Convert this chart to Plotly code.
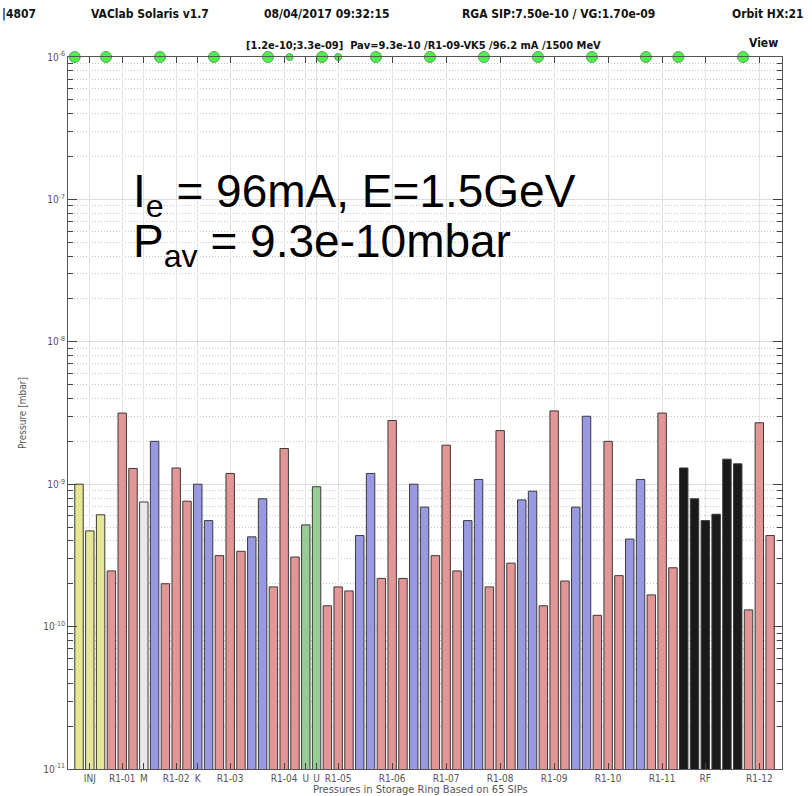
import plotly.graph_objects as go

# ---------------- data ----------------
pressures = [
    1.0e-9, 4.7e-10, 6.1e-10, 2.46e-10, 3.16e-9, 1.29e-9, 7.5e-10, 2.0e-9, 2.0e-10, 1.3e-9,
    7.6e-10, 1.0e-9, 5.55e-10, 3.15e-10, 1.19e-9, 3.38e-10, 4.27e-10, 7.9e-10, 1.9e-10, 1.78e-9,
    3.08e-10, 5.18e-10, 9.6e-10, 1.4e-10, 1.9e-10, 1.78e-10, 4.36e-10, 1.19e-9, 2.18e-10, 2.8e-9,
    2.18e-10, 1.0e-9, 6.9e-10, 3.15e-10, 1.88e-9, 2.46e-10, 5.55e-10, 1.08e-9, 1.9e-10, 2.38e-9,
    2.79e-10, 7.76e-10, 8.93e-10, 1.4e-10, 3.27e-9, 2.09e-10, 6.9e-10, 3.0e-9, 1.2e-10, 2.0e-9,
    2.28e-10, 4.12e-10, 1.08e-9, 1.67e-10, 3.16e-9, 2.59e-10, 1.3e-9, 7.9e-10, 5.55e-10, 6.15e-10,
    1.5e-9, 1.39e-9, 1.31e-10, 2.7e-9, 4.36e-10,
]
pump_types = list(
    "YYYRRRMBRRRBBRRRBBRRRUURRRBBRRRBBRRRBBRRRBBRRRBBRRRBBRRRKKKKKKRRR"
)
type_colors = {
    "Y": "#e6e696",
    "R": "#e39696",
    "M": "#e8e8e8",
    "B": "#9999e3",
    "U": "#96cc96",
    "K": "#1a1a1a",
}
section_pos = [1, 4, 6, 9, 11, 14, 19, 21, 22, 24, 29, 34, 39, 44, 49, 54, 58, 63]
section_labels = ["INJ", "R1-01", "M", "R1-02", "K", "R1-03", "R1-04", "U", "U", "R1-05",
                  "R1-06", "R1-07", "R1-08", "R1-09", "R1-10", "R1-11", "RF", "R1-12"]
status_pos = [-0.4, 2.5, 7.5, 12.5, 17.5, 19.5, 22.5, 24.0, 27.5, 32.5, 37.5, 42.5, 47.5,
              52.5, 55.5, 61.5]
status_size = [11, 11, 11, 11, 11, 7, 11, 7, 11, 11, 11, 11, 11, 11, 11, 11]
status_level = [1e-6] * len(status_pos)

y_major = [1e-11, 1e-10, 1e-9, 1e-8, 1e-7, 1e-6]
y_major_text = ["10<sup>-11</sup>", "10<sup>-10</sup>", "10<sup>-9</sup>",
                "10<sup>-8</sup>", "10<sup>-7</sup>", "10<sup>-6</sup>"]
y_minor = [m * d for d in y_major[:-1] for m in range(2, 10)]

# ---------------- geometry helpers ----------------
W, H = 812, 796
L, R, T, B = 68, 30, 57, 27
PW, PH = W - L - R, H - T - B


def px_x(px):
    return (px - L) / PW


def px_y(py):
    return (H - B - py) / PH


# ---------------- figure ----------------
xs = list(range(len(pressures)))
fig = go.Figure()
fig.add_trace(go.Bar(
    x=xs, y=pressures, width=0.78,
    marker=dict(color=[type_colors[t] for t in pump_types],
                line=dict(color="#3a3a3a", width=1)),
    showlegend=False, hoverinfo="y",
))
fig.add_trace(go.Scatter(
    x=status_pos, y=status_level, mode="markers", cliponaxis=False,
    marker=dict(color="#00ee00", size=status_size, line=dict(color="#1a7a1a", width=1)),
    showlegend=False,
))

cond = "DejaVu Sans Condensed, DejaVu Sans, sans-serif"
fig.update_layout(
    width=W, height=H,
    margin=dict(l=L, r=R, t=T, b=B),
    paper_bgcolor="white", plot_bgcolor="white",
    font=dict(family=cond, color="#555555", size=10),
    xaxis=dict(
        range=[-1.02, 65.1], tickmode="array", tickvals=section_pos, ticktext=section_labels,
        showgrid=True, gridcolor="#e2e2e2", gridwidth=1,
        ticks="inside", ticklen=6, tickcolor="#444444",
        showline=True, linecolor="#555555", linewidth=1, mirror="allticks",
        tickfont=dict(size=10, color="#555555", family=cond), zeroline=False,
        automargin=False,
    ),
    yaxis=dict(
        type="log", range=[-11, -5.99995], tickmode="array", tickvals=y_major,
        ticktext=y_major_text,
        showgrid=True, gridcolor="#dddddd", gridwidth=1,
        ticks="inside", ticklen=9, tickcolor="#444444",
        showline=True, linecolor="#555555", linewidth=1, mirror="allticks",
        tickfont=dict(size=10, color="#555555", family=cond),
        minor=dict(tickmode="array", tickvals=y_minor, ticks="inside", ticklen=5,
                   tickcolor="#444444", showgrid=True, gridcolor="#c4c4c4",
                   griddash="1px,2px", gridwidth=1),
        automargin=False,
        title=dict(text="Pressure [mbar]", standoff=14,
                   font=dict(size=10, color="#555555", family=cond)),
    ),
)

# x-axis title
fig.add_annotation(x=px_x(420), y=px_y(789), xref="paper", yref="paper",
                   xanchor="center", yanchor="middle", showarrow=False,
                   text="Pressures in Storage Ring Based on 65 SIPs",
                   font=dict(family=cond, size=11, color="#555555"))
# header line
header = [(0, "|4807"), (89, "VAClab Solaris v1.7"), (262, "08/04/2017 09:32:15"),
          (460, "RGA SIP:7.50e-10 / VG:1.70e-09"), (730, "Orbit HX:21")]
for hx, txt in header:
    fig.add_annotation(x=px_x(hx), y=px_y(14), xref="paper", yref="paper",
                       xanchor="left", yanchor="middle", showarrow=False,
                       text="<b>" + txt + "</b>",
                       font=dict(family=cond, size=12, color="#111111"))
# status line above plot
fig.add_annotation(x=px_x(423), y=px_y(46), xref="paper", yref="paper",
                   xanchor="center", yanchor="middle", showarrow=False,
                   text="<b>[1.2e-10;3.3e-09]  Pav=9.3e-10 /R1-09-VK5 /96.2 mA /1500 MeV</b>",
                   font=dict(family=cond, size=11, color="#111111"))
fig.add_annotation(x=px_x(780), y=px_y(43), xref="paper", yref="paper",
                   xanchor="right", yanchor="middle", showarrow=False,
                   text="<b>View</b>", font=dict(family=cond, size=12, color="#111111"))
# big overlay text
big = dict(family="Liberation Sans, Arial, sans-serif", size=46, color="black")
fig.add_annotation(x=px_x(131), y=px_y(194), xref="paper", yref="paper",
                   xanchor="left", yanchor="middle", showarrow=False,
                   text="I<sub>e</sub> = 96mA, E=1.5GeV", font=big)
fig.add_annotation(x=px_x(131), y=px_y(245), xref="paper", yref="paper",
                   xanchor="left", yanchor="middle", showarrow=False,
                   text="P<sub>av</sub> = 9.3e-10mbar", font=big)

fig.write_html("out.html")
